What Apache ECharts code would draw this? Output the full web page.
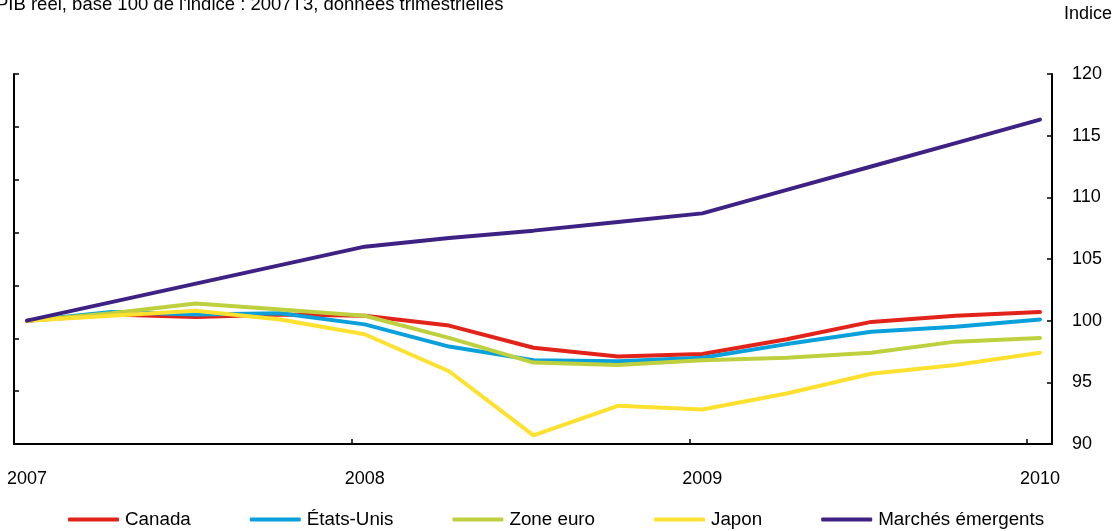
<!DOCTYPE html>
<html>
<head>
    <meta charset="utf-8">
    <title>PIB réel</title>
    <script src="https://cdn.jsdelivr.net/npm/echarts@6/dist/echarts.min.js"></script>
    <style>
        html, body { margin: 0; padding: 0; background: #fff; }
        #chart1 { width: 1120px; height: 531px; }
    </style>
</head>
<body>
<div id="chart1"></div>
<script>
    // trimestres : 2007T3 ... 2010T3 (indice 0..12)
    var quarters = ['2007T3','2007T4','2008T1','2008T2','2008T3','2008T4','2009T1','2009T2','2009T3','2009T4','2010T1','2010T2','2010T3'];

    var canada   = [100, 100.5, 100.3, 100.5, 100.4, 99.6, 97.8, 97.1, 97.3, 98.5, 99.9, 100.4, 100.7];
    var etatsUnis = [100, 100.7, 100.5, 100.6, 99.7, 97.9, 96.8, 96.7, 97.0, 98.1, 99.1, 99.5, 100.1];
    var zoneEuro = [100, 100.6, 101.4, 100.9, 100.4, 98.6, 96.6, 96.4, 96.8, 97.0, 97.4, 98.3, 98.6];
    var japon    = [100, 100.4, 100.8, 100.1, 98.9, 95.9, 90.7, 93.1, 92.8, 94.1, 95.7, 96.4, 97.4];
    var emergents = [100, 101.5, 103.0, 104.5, 106.0, 106.7, 107.3, 108.0, 108.7, 110.6, 112.5, 114.4, 116.3];

    // étiquettes des années (placées sous les trimestres 0, 4, 8, 12)
    var yearLabels = ['2007', '2008', '2009', '2010'];
    var yearLabelPos = [0, 4, 8, 12];
    var yearTickPos = [-0.154, 3.846, 7.846, 11.846];

    var rightTicks = [90, 95, 100, 105, 110, 115, 120];

    var XMIN = -0.154, XMAX = 12.142;

    function toPoints(arr) {
        return arr.map(function (v, i) { return [i, v]; });
    }

    var font = 'Liberation Sans, Arial, sans-serif';

    var myChart1 = echarts.init(document.getElementById('chart1'));

    myChart1.setOption({
        animation: false,
        title: [{
            text: "PIB réel, base 100 de l'indice : 2007T3, données trimestrielles",
            left: -4,
            top: -5,
            padding: 0,
            textStyle: { fontFamily: font, fontSize: 18.5, fontWeight: 'normal', color: '#000' }
        }, {
            text: 'Indice',
            left: 1064,
            top: 5,
            padding: 0,
            textStyle: { fontFamily: font, fontSize: 18, fontWeight: 'normal', color: '#000' }
        }],
        legend: {
            left: 68,
            top: 510,
            padding: 0,
            itemWidth: 51,
            itemHeight: 4,
            itemGap: 59,
            icon: 'roundRect',
            textStyle: { fontFamily: font, fontSize: 18.8, color: '#000', padding: [0, 0, 0, 1] },
            data: ['Canada', 'États-Unis', 'Zone euro', 'Japon', 'Marchés émergents']
        },
        grid: { left: 14, right: 68, top: 74, bottom: 87 },
        xAxis: {
            type: 'value',
            min: XMIN,
            max: XMAX,
            axisLine: { onZero: false, lineStyle: { color: '#000', width: 2 } },
            axisTick: {
                inside: true,
                length: 5,
                customValues: yearTickPos,
                lineStyle: { color: '#000', width: 1.5 }
            },
            axisLabel: {
                customValues: yearLabelPos,
                margin: 26,
                fontFamily: font,
                fontSize: 18,
                color: '#000',
                formatter: function (v) {
                    var k = yearLabelPos.indexOf(Math.round(v));
                    return k >= 0 ? yearLabels[k] : '';
                }
            },
            splitLine: { show: false }
        },
        yAxis: [{
            type: 'value',
            position: 'right',
            min: 90,
            max: 120,
            interval: 5,
            axisLine: { show: true, onZero: false, lineStyle: { color: '#000', width: 2 } },
            axisTick: { show: true, inside: true, length: 5, lineStyle: { color: '#000', width: 1.5 } },
            axisLabel: {
                margin: 20,
                fontFamily: font,
                fontSize: 18,
                color: '#000',
                formatter: function (v) { return rightTicks.indexOf(v) >= 0 ? String(v) : ''; }
            },
            splitLine: { show: false }
        }, {
            type: 'value',
            position: 'left',
            min: 0,
            max: 7,
            interval: 1,
            axisLine: { show: true, onZero: false, lineStyle: { color: '#000', width: 2 } },
            axisTick: { show: true, inside: true, length: 5, lineStyle: { color: '#000', width: 1.5 } },
            axisLabel: { show: false },
            splitLine: { show: false }
        }],
        series: [{
            name: 'Canada',
            type: 'line',
            data: toPoints(canada),
            symbol: 'none',
            color: '#E2231A',
            lineStyle: { width: 4, cap: 'round' }
        }, {
            name: 'États-Unis',
            type: 'line',
            data: toPoints(etatsUnis),
            symbol: 'none',
            color: '#0AA0DC',
            lineStyle: { width: 4, cap: 'round' }
        }, {
            name: 'Zone euro',
            type: 'line',
            data: toPoints(zoneEuro),
            symbol: 'none',
            color: '#BFD03E',
            lineStyle: { width: 4, cap: 'round' }
        }, {
            name: 'Japon',
            type: 'line',
            data: toPoints(japon),
            symbol: 'none',
            color: '#FEE12F',
            lineStyle: { width: 4, cap: 'round' }
        }, {
            name: 'Marchés émergents',
            type: 'line',
            data: toPoints(emergents),
            symbol: 'none',
            color: '#3D2283',
            lineStyle: { width: 4, cap: 'round' }
        }]
    });
</script>
</body>
</html>
